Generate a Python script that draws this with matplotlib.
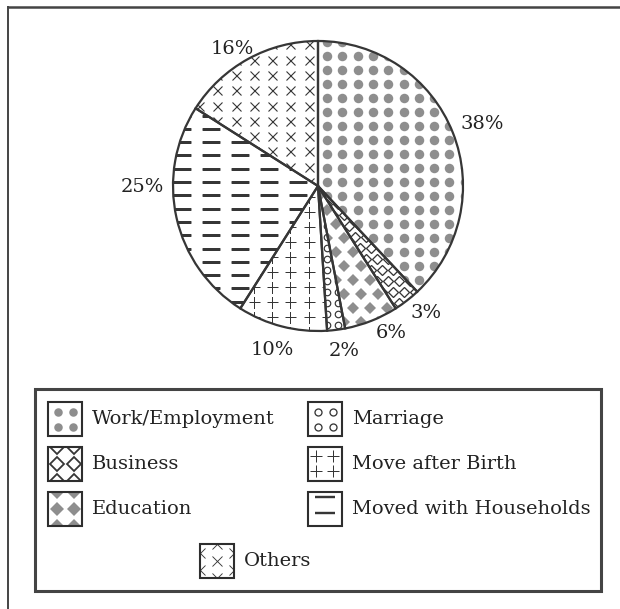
import numpy as np
import matplotlib
matplotlib.use("Agg")
import matplotlib.pyplot as plt
from matplotlib.patches import Rectangle

# data
categories = ["Work/Employment", "Business", "Education", "Marriage",
              "Move after Birth", "Moved with Households", "Others"]
shares = [38, 3, 6, 2, 10, 25, 16]
pct_labels = ["38%", "3%", "6%", "2%", "10%", "25%", "16%"]

DARK = "#363636"
GRAY = "#8e8e8e"
FONT = "DejaVu Serif"
FS = 14.0
R_PX = 145.0  # pie radius in pixels

# pattern for each slice: marker, size px, dx px, dy px, stagger, face, edge, edge width
patterns = {
    "Work/Employment": dict(marker="o", size=9.5, dx=15.3, dy=14.0, stagger=None, fc=GRAY, ec="none", lw=0),
    "Business": dict(marker="D", size=7.0, dx=11.0, dy=11.0, stagger="row", fc="white", ec=DARK, lw=1.3),
    "Education": dict(marker="D", size=8.3, dx=17.0, dy=14.0, stagger="row", fc=GRAY, ec="none", lw=0),
    "Marriage": dict(marker="o", size=6.5, dx=11.0, dy=11.0, stagger=None, fc="white", ec=DARK, lw=1.2),
    "Move after Birth": dict(marker="+", size=11.0, dx=18.3, dy=15.0, stagger=None, fc=DARK, ec=DARK, lw=1.0),
    "Moved with Households": dict(marker="_", size=17.5, dx=29.0, dy=13.3, stagger=None, fc=DARK, ec=DARK, lw=2.6),
    "Others": dict(marker="x", size=9.0, dx=18.3, dy=15.3, stagger=None, fc=DARK, ec=DARK, lw=1.1),
}

# label nudges in pixels (x right, y up)
label_nudge = [(7, 0), (4, 7), (11, 11), (5, 3), (-3, 0), (-10, 36), (-4, -12)]

PT = 72.0 / 100.0  # points per pixel at dpi 100


def fill_pattern(ax, clip, x0, x1, y0, y1, unit, p, ox=0.0, oy=0.0, z=2):
    dx = p["dx"] * unit
    dy = p["dy"] * unit
    xs, ys = [], []
    rows = np.arange(np.floor((y0 - oy) / dy) - 1, np.ceil((y1 - oy) / dy) + 2)
    cols = np.arange(np.floor((x0 - ox) / dx) - 1, np.ceil((x1 - ox) / dx) + 2)
    for r in rows:
        for c in cols:
            sx = dx / 2 if (p["stagger"] == "row" and int(r) % 2) else 0.0
            sy = dy / 2 if (p["stagger"] == "col" and int(c) % 2) else 0.0
            xs.append(ox + c * dx + sx)
            ys.append(oy + r * dy + sy)
    ln, = ax.plot(xs, ys, linestyle="none", marker=p["marker"],
                  markersize=p["size"] * PT, markerfacecolor=p["fc"],
                  markeredgecolor=p["ec"], markeredgewidth=p["lw"] * PT,
                  zorder=z)
    ln.set_clip_path(clip)
    return ln


fig = plt.figure(figsize=(6.2, 6.09), dpi=100)

# pie axes: center at (318, 186) px from top, radius 145 px
half = 160.0
ax = fig.add_axes([(318 - half) / 620, (609 - 186 - half) / 609, 2 * half / 620, 2 * half / 609])
lim = half / R_PX

wedges, _ = ax.pie(shares, startangle=90, counterclock=False, radius=1.0,
                   wedgeprops=dict(facecolor="white", linewidth=0, zorder=1))

unit = 1.0 / R_PX
for w, cat in zip(wedges, categories):
    fill_pattern(ax, w, -1.05, 1.05, -1.05, 1.05, unit, patterns[cat],
                 ox=9 * unit, oy=4 * unit)

ax.pie(shares, startangle=90, counterclock=False, radius=1.0,
       wedgeprops=dict(facecolor="none", edgecolor=DARK, linewidth=1.6, zorder=3))
ax.set_xlim(-lim, lim)
ax.set_ylim(-lim, lim)
ax.set_aspect("equal")
ax.axis("off")

# percentage labels around the pie
total = float(sum(shares))
cum = 0.0
for val, lab, (nx, ny) in zip(shares, pct_labels, label_nudge):
    mid = 90 - 360 * (cum + val / 2) / total
    cum += val
    rad = np.deg2rad(mid)
    rr = 1.17
    ax.text(rr * np.cos(rad) + nx * unit, rr * np.sin(rad) + ny * unit, lab,
            ha="center", va="center", fontsize=FS, family=FONT, color="#222222",
            zorder=4)

# overlay axes in pixel coords for frame and legend
lx = fig.add_axes([0, 0, 1, 1], zorder=-1)
lx.set_xlim(0, 620)
lx.set_ylim(609, 0)
lx.axis("off")

lx.plot([7, 620], [6.5, 6.5], color="#444444", lw=1.8, solid_capstyle="butt")
lx.plot([7.5, 7.5], [6, 609], color="#444444", lw=1.4, solid_capstyle="butt")
lx.add_patch(Rectangle((35, 389), 566, 202, facecolor="white", edgecolor="#444444", lw=2.2))

# legend handle patterns (in box pixels)
leg_patterns = {
    "Work/Employment": dict(marker="o", size=8.5, dx=15.0, dy=15.0, stagger=None, fc=GRAY, ec="none", lw=0),
    "Business": dict(marker="D", size=10.0, dx=17.0, dy=17.0, stagger=None, fc="white", ec=DARK, lw=1.8),
    "Education": dict(marker="D", size=10.0, dx=17.0, dy=17.0, stagger=None, fc=GRAY, ec="none", lw=0),
    "Marriage": dict(marker="o", size=7.0, dx=15.0, dy=15.0, stagger=None, fc="white", ec=DARK, lw=1.3),
    "Move after Birth": dict(marker="+", size=12.0, dx=17.0, dy=15.0, stagger=None, fc=DARK, ec=DARK, lw=1.0),
    "Moved with Households": dict(marker="_", size=20.0, dx=40.0, dy=16.0, stagger=None, fc=DARK, ec=DARK, lw=2.4),
    "Others": dict(marker="x", size=10.0, dx=17.0, dy=17.0, stagger="col", fc=DARK, ec=DARK, lw=0.9),
}
# handle origin offsets so the motifs sit like the reference boxes
leg_offsets = {
    "Work/Employment": (10, 10),
    "Business": (8.5, 0),
    "Education": (8.5, 0),
    "Marriage": (10, 10),
    "Move after Birth": (8, 9),
    "Moved with Households": (17, 4.5),
    "Others": (17, 0),
}
leg_boxes = {
    "Work/Employment": (48, 402),
    "Business": (48, 447),
    "Education": (48, 492),
    "Marriage": (308, 402),
    "Move after Birth": (308, 447),
    "Moved with Households": (308, 492),
    "Others": (200, 544),
}
BOX = 34
for cat in categories:
    bx, by = leg_boxes[cat]
    face = Rectangle((bx, by), BOX, BOX, facecolor="white", edgecolor="none", zorder=1)
    lx.add_patch(face)
    ox, oy = leg_offsets[cat]
    fill_pattern(lx, face, bx, bx + BOX, by, by + BOX, 1.0, leg_patterns[cat],
                 ox=bx + ox, oy=by + oy, z=2)
    lx.add_patch(Rectangle((bx, by), BOX, BOX, facecolor="none", edgecolor="#2e2e2e", lw=1.5, zorder=3))
    lx.text(bx + BOX + 10, by + BOX / 2, cat, ha="left", va="center",
            fontsize=FS, family=FONT, color="#222222")

fig.savefig("out.png", dpi=100)
